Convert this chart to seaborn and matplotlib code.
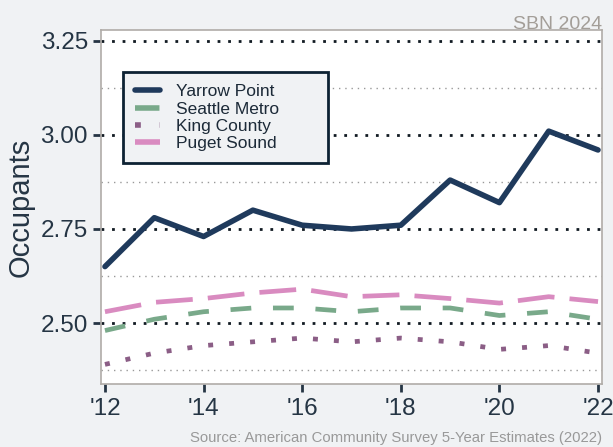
import pandas as pd
import matplotlib.pyplot as plt
import seaborn as sns

years = list(range(2012, 2023))
yarrow_point = [2.65, 2.78, 2.73, 2.80, 2.76, 2.75, 2.76, 2.88, 2.82, 3.01, 2.96]
seattle_metro = [2.48, 2.51, 2.53, 2.54, 2.54, 2.53, 2.54, 2.54, 2.52, 2.53, 2.51]
king_county = [2.39, 2.42, 2.44, 2.45, 2.46, 2.45, 2.46, 2.45, 2.43, 2.44, 2.42]
puget_sound = [2.53, 2.555, 2.565, 2.58, 2.59, 2.57, 2.575, 2.565, 2.553, 2.57, 2.557]

series_names = ['Yarrow Point', 'Seattle Metro', 'King County', 'Puget Sound']
x_ticks = [2012, 2014, 2016, 2018, 2020, 2022]
x_tick_labels = ["'12", "'14", "'16", "'18", "'20", "'22"]
y_major = [2.50, 2.75, 3.00, 3.25]
y_minor = [2.375, 2.625, 2.875, 3.125]

BG = '#f0f2f4'
DARK = '#253544'

df = pd.DataFrame({
    'year': years * 4,
    'occupants': yarrow_point + seattle_metro + king_county + puget_sound,
    'region': [n for n in series_names for _ in years],
})

palette = {'Yarrow Point': '#1f3a5c', 'Seattle Metro': '#79a98a',
           'King County': '#8b5e86', 'Puget Sound': '#d98bc0'}
dashes = {'Yarrow Point': '', 'Seattle Metro': (4.4, 4.6),
          'King County': (1.05, 3.4), 'Puget Sound': (7.8, 3.2)}

sns.set_style('white')
plt.rcParams['font.family'] = ['Liberation Sans', 'DejaVu Sans']
plt.rcParams['lines.dash_capstyle'] = 'butt'

fig = plt.figure(figsize=(6.13, 4.47), dpi=100, facecolor=BG)
ax = fig.add_axes([0.1648, 0.141, 0.8172, 0.792])
ax.set_facecolor('white')

# gridlines first so lines sit on top
for v in y_major:
    ax.axhline(v, color='#111a22', linestyle=(0, (1, 2.8)), lw=2, zorder=1)
for v in y_minor:
    ax.axhline(v, color='#999999', linestyle=(0, (1, 3.5)), lw=1, zorder=1)

sns.lineplot(data=df, x='year', y='occupants', hue='region', style='region',
             palette=palette, dashes=dashes, hue_order=series_names,
             style_order=series_names, linewidth=3.4, ax=ax, zorder=3)

for line in ax.get_lines():
    if line.get_color() == palette['Yarrow Point']:
        line.set_linewidth(4)

ax.set_xlim(2011.92, 2022.08)
ax.set_ylim(2.338, 3.279)
ax.set_xticks(x_ticks)
ax.set_xticklabels(x_tick_labels)
ax.set_yticks(y_major)
ax.set_yticklabels([f'{v:.2f}' for v in y_major])
ax.tick_params(axis='both', labelsize=17.5, colors=DARK, length=6, width=2,
               direction='out', bottom=True, left=True)
ax.tick_params(axis='x', pad=4)
ax.set_xlabel('')
ax.set_ylabel('Occupants', fontsize=21, color=DARK, labelpad=4)

for s in ax.spines.values():
    s.set_color('#b0aca8')
    s.set_linewidth(1.2)

handles, labels = ax.get_legend_handles_labels()
leg = ax.legend(handles[-4:], labels[-4:], loc='upper left',
                bbox_to_anchor=(0.044, 0.881, 0.409, 0.0), mode='expand',
                borderaxespad=0, fontsize=12.5, labelspacing=0.12,
                handlelength=1.4, handletextpad=0.95, borderpad=0.7,
                frameon=True, fancybox=False)
leg.get_frame().set_facecolor(BG)
leg.get_frame().set_edgecolor('#0d2233')
leg.get_frame().set_linewidth(2)
leg.get_frame().set_alpha(1)
for t in leg.get_texts():
    t.set_color('#1c2a38')
for h in leg.get_lines():
    h.set_linewidth(4)

fig.text(0.982, 0.935, 'SBN 2024', ha='right', va='baseline', fontsize=14,
         color='#a39e98')
fig.text(0.982, 0.011, 'Source: American Community Survey 5-Year Estimates (2022)',
         ha='right', va='baseline', fontsize=10.75, color='#999999')

plt.savefig('out.png', dpi=100, facecolor=BG)
